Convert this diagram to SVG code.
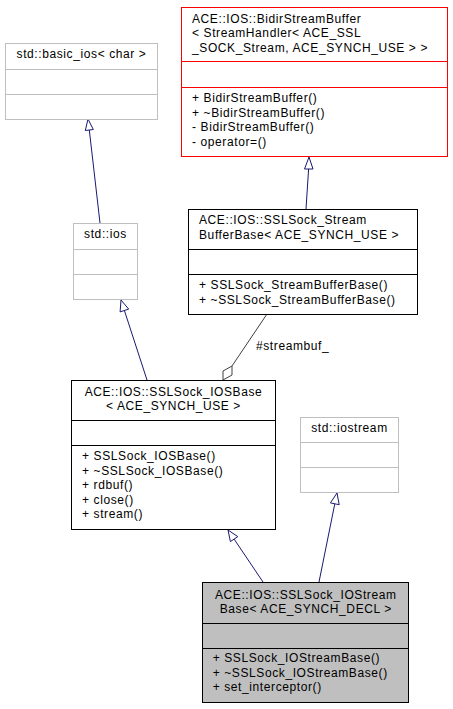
<svg xmlns="http://www.w3.org/2000/svg" width="453" height="709" viewBox="0 0 453 709">
<style>
  text { font-family: "Liberation Sans", Arial, sans-serif; font-size: 12px; letter-spacing: 0.6px; fill: #000; }
  .c { text-anchor: middle; }
  .box { fill: #fff; stroke: #000; stroke-width: 1; }
  .gray { fill: #fff; stroke: #bfbfbf; stroke-width: 1; }
  .red { fill: #fff; stroke: #ff0000; stroke-width: 1; }
  .cur { fill: #bfbfbf; stroke: #000; stroke-width: 1; }
  .dk { stroke: #000; stroke-width: 1; }
  .dg { stroke: #bfbfbf; stroke-width: 1; }
  .dr { stroke: #ff0000; stroke-width: 1; }
  .inh { stroke: #191970; stroke-width: 1; fill: none; }
  .inhHead { stroke: #191970; stroke-width: 1; fill: #fff; }
  .agg { stroke: #404040; stroke-width: 1; fill: none; }
  .aggHead { stroke: #404040; stroke-width: 1; fill: #fff; }
</style>
<rect width="453" height="709" fill="#fff"/>
<g id="connectors">
  <line class="inh" x1="100" y1="223" x2="89.3" y2="130"/>
  <polygon class="inhHead" points="88,119 93.3,129.5 85.3,130.5"/>
  <line class="inh" x1="306" y1="209" x2="308.6" y2="169"/>
  <polygon class="inhHead" points="309,157 313,169 304.5,169"/>
  <line class="inh" x1="147" y1="380" x2="124.4" y2="310.5"/>
  <polygon class="inhHead" points="121,300 128.7,309.1 120.1,311.9"/>
  <line class="agg" x1="267" y1="314" x2="232" y2="366"/>
  <polygon class="aggHead" points="232,366 223,371 223,380 232,375"/>
  <text x="256" y="350">#streambuf_</text>
  <line class="inh" x1="263" y1="582" x2="234.1" y2="539.1"/>
  <polygon class="inhHead" points="228,530 237.8,536.6 230.4,541.6"/>
  <line class="inh" x1="319" y1="582" x2="334.8" y2="503.8"/>
  <polygon class="inhHead" points="337,493 339.2,504.7 330.4,502.9"/>
</g>
<g id="node_basic_ios">
  <rect class="gray" x="5.5" y="43.5" width="152" height="76"/>
  <line class="dg" x1="5.5" y1="69.5" x2="157.5" y2="69.5"/>
  <line class="dg" x1="5.5" y1="94.5" x2="157.5" y2="94.5"/>
  <text class="c" x="81.5" y="58.3">std::basic_ios&lt; char &gt;</text>
</g>
<g id="node_bidir">
  <rect class="red" x="181.5" y="7.5" width="266" height="149"/>
  <line class="dr" x1="181.5" y1="61.5" x2="447.5" y2="61.5"/>
  <line class="dr" x1="181.5" y1="87.5" x2="447.5" y2="87.5"/>
  <text x="192" y="22.5">ACE::IOS::BidirStreamBuffer</text>
  <text x="192" y="37">&lt; StreamHandler&lt; ACE_SSL</text>
  <text x="192" y="51.5">_SOCK_Stream, ACE_SYNCH_USE &gt; &gt;</text>
  <text x="192" y="102">+ BidirStreamBuffer()</text>
  <text x="192" y="116.5">+ ~BidirStreamBuffer()</text>
  <text x="192" y="131">- BidirStreamBuffer()</text>
  <text x="192" y="145.5">- operator=()</text>
</g>
<g id="node_streambufferbase">
  <rect class="box" x="188.5" y="209.5" width="229" height="105"/>
  <line class="dk" x1="188.5" y1="249.5" x2="417.5" y2="249.5"/>
  <line class="dk" x1="188.5" y1="274.5" x2="417.5" y2="274.5"/>
  <text x="199" y="224.3">ACE::IOS::SSLSock_Stream</text>
  <text x="199" y="238.5">BufferBase&lt; ACE_SYNCH_USE &gt;</text>
  <text x="199" y="289.3">+ SSLSock_StreamBufferBase()</text>
  <text x="199" y="304">+ ~SSLSock_StreamBufferBase()</text>
</g>
<g id="node_ios">
  <rect class="gray" x="73.5" y="223.5" width="64" height="76"/>
  <line class="dg" x1="73.5" y1="249.5" x2="137.5" y2="249.5"/>
  <line class="dg" x1="73.5" y1="274.5" x2="137.5" y2="274.5"/>
  <text class="c" x="105.5" y="238.3">std::ios</text>
</g>
<g id="node_iosbase">
  <rect class="box" x="71.5" y="380.5" width="204" height="149"/>
  <line class="dk" x1="71.5" y1="420.5" x2="275.5" y2="420.5"/>
  <line class="dk" x1="71.5" y1="445.5" x2="275.5" y2="445.5"/>
  <text class="c" x="173.5" y="395.7">ACE::IOS::SSLSock_IOSBase</text>
  <text class="c" x="173.5" y="410">&lt; ACE_SYNCH_USE &gt;</text>
  <text x="82" y="460">+ SSLSock_IOSBase()</text>
  <text x="82" y="474.5">+ ~SSLSock_IOSBase()</text>
  <text x="82" y="489">+ rdbuf()</text>
  <text x="82" y="503.5">+ close()</text>
  <text x="82" y="518">+ stream()</text>
</g>
<g id="node_iostream">
  <rect class="gray" x="300.5" y="417.5" width="98" height="75"/>
  <line class="dg" x1="300.5" y1="442.5" x2="398.5" y2="442.5"/>
  <line class="dg" x1="300.5" y1="467.5" x2="398.5" y2="467.5"/>
  <text class="c" x="349.5" y="432.3">std::iostream</text>
</g>
<g id="node_iostreambase">
  <rect class="cur" x="202.5" y="582.5" width="206" height="120"/>
  <line class="dk" x1="202.5" y1="623.5" x2="408.5" y2="623.5"/>
  <line class="dk" x1="202.5" y1="648.5" x2="408.5" y2="648.5"/>
  <text class="c" x="305.8" y="599">ACE::IOS::SSLSock_IOStream</text>
  <text class="c" x="305.8" y="612.7">Base&lt; ACE_SYNCH_DECL &gt;</text>
  <text x="212.7" y="662">+ SSLSock_IOStreamBase()</text>
  <text x="212.7" y="676.5">+ ~SSLSock_IOStreamBase()</text>
  <text x="212.7" y="691">+ set_interceptor()</text>
</g>
</svg>
